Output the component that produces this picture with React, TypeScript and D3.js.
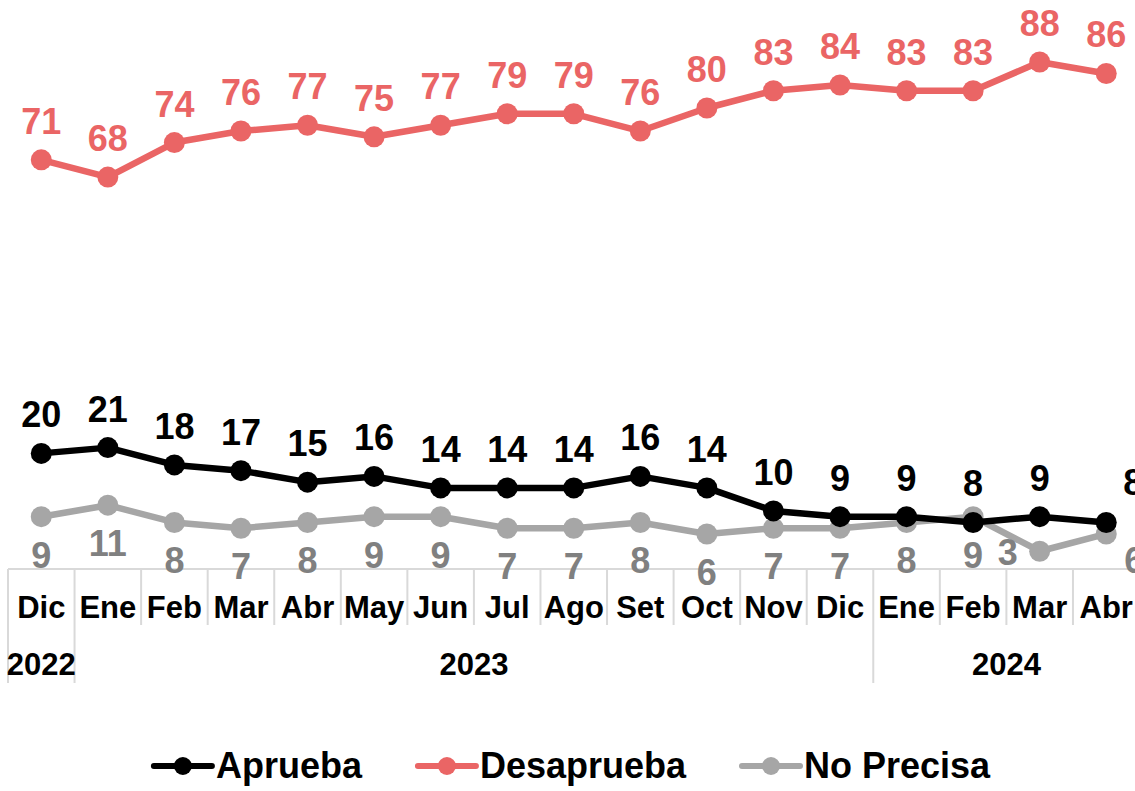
import * as d3 from "d3";
import { useEffect } from "react";

const months = ["Dic", "Ene", "Feb", "Mar", "Abr", "May", "Jun", "Jul", "Ago", "Set", "Oct", "Nov", "Dic", "Ene", "Feb", "Mar", "Abr"];
const years = [
  { label: "2022", from: 0, to: 1 },
  { label: "2023", from: 1, to: 13 },
  { label: "2024", from: 13, to: 17 },
];

const aprueba = [20, 21, 18, 17, 15, 16, 14, 14, 14, 16, 14, 10, 9, 9, 8, 9, 8];
const desaprueba = [71, 68, 74, 76, 77, 75, 77, 79, 79, 76, 80, 83, 84, 83, 83, 88, 86];
const noPrecisa = [9, 11, 8, 7, 8, 9, 9, 7, 7, 8, 6, 7, 7, 8, 9, 3, 6];

const W = 1135;
const H = 791;
const FONT = "'Liberation Sans', Arial, sans-serif";

const RED = "#EA6565";
const GRAY = "#A6A6A6";
const GRAY_TXT = "#808080";
const GRID = "#D9D9D9";

type Series = {
  name: string;
  values: number[];
  color: string;
  labelColor: string;
  place: "above" | "below";
};

const series: Series[] = [
  { name: "Aprueba", values: aprueba, color: "#000000", labelColor: "#000000", place: "above" },
  { name: "Desaprueba", values: desaprueba, color: RED, labelColor: RED, place: "above" },
  { name: "No Precisa", values: noPrecisa, color: GRAY, labelColor: GRAY_TXT, place: "below" },
];

function measure(text: string, font: string) {
  const c = document.createElement("canvas").getContext("2d");
  if (!c) return text.length * 20;
  c.font = font;
  return c.measureText(text).width;
}

export default function App() {
  useEffect(() => {
    document.body.style.margin = "0";
  }, []);

  const idx = months.map((_, i) => i);
  const x = d3.scaleBand<number>().domain(idx).range([8, 8 + 17 * 66.56]).padding(0);
  const cx = (i: number) => (x(i) ?? 0) + x.bandwidth() / 2;
  const y = d3.scaleLinear().domain([0, 100]).range([568.5, -7.1]);

  const line = d3
    .line<number>()
    .x((_, i) => cx(i))
    .y((d) => y(d));

  const axisY = 569;
  const bounds = d3.range(0, 18).map((i) => 8 + i * x.bandwidth());
  const yearEdges = new Set(years.flatMap((yr) => [yr.from, yr.to]));

  // legend layout
  const legendFont = `bold 36px ${FONT}`;
  const seg = 58;
  const gapText = 4;
  const gapItem = 56;
  const widths = series.map((s) => measure(s.name, legendFont));
  const total = widths.reduce((a, b) => a + b, 0) + series.length * (seg + gapText) + gapItem * (series.length - 1);
  let lx = 572 - total / 2;
  const legendItems = series.map((s, i) => {
    const item = { s, x0: lx, w: widths[i] };
    lx += seg + gapText + widths[i] + gapItem;
    return item;
  });

  const labelPos = (s: Series, i: number, v: number) => {
    const px = cx(i);
    const py = y(v);
    if (s.name === "No Precisa" && i === 15) return { x: px - 32, y: py + 14 };
    if (s.name === "No Precisa" && i === 16) return { x: px + 28, y: py + 39 };
    if (s.name === "Aprueba" && i === 16) return { x: px + 27, y: py - 27 };
    if (s.place === "below") return { x: px, y: py + 51 };
    return { x: px, y: py - 26 };
  };

  return (
    <svg width={W} height={H} style={{ position: "absolute", left: 0, top: 0, background: "#fff" }} fontFamily={FONT}>
      {/* category axis */}
      <line x1={8} x2={W} y1={axisY} y2={axisY} stroke={GRID} strokeWidth={2} />
      {bounds.map((bx, i) => (
        <line
          key={"b" + i}
          x1={bx}
          x2={bx}
          y1={axisY}
          y2={yearEdges.has(i) ? 683 : 625}
          stroke={GRID}
          strokeWidth={2}
        />
      ))}
      {months.map((m, i) => (
        <text key={"m" + i} x={cx(i)} y={618} textAnchor="middle" fontSize={31} fontWeight="bold" fill="#000">
          {m}
        </text>
      ))}
      {years.map((yr) => {
        const a = 8 + yr.from * x.bandwidth();
        const b = 8 + yr.to * x.bandwidth();
        return (
          <text key={yr.label} x={(a + b) / 2} y={675} textAnchor="middle" fontSize={31} fontWeight="bold" fill="#000">
            {yr.label}
          </text>
        );
      })}

      {/* series */}
      {[series[2], series[1], series[0]].map((s) => (
        <g key={s.name}>
          <path d={line(s.values) ?? ""} fill="none" stroke={s.color} strokeWidth={6.5} strokeLinejoin="round" />
          {s.values.map((v, i) => (
            <circle key={i} cx={cx(i)} cy={y(v)} r={10.5} fill={s.color} />
          ))}
        </g>
      ))}
      {series.map((s) =>
        s.values.map((v, i) => {
          const p = labelPos(s, i, v);
          return (
            <text
              key={s.name + i}
              x={p.x}
              y={p.y}
              textAnchor="middle"
              fontSize={36}
              fontWeight="bold"
              fill={s.labelColor}
            >
              {v}
            </text>
          );
        })
      )}

      {/* legend */}
      {legendItems.map(({ s, x0 }) => (
        <g key={"l" + s.name}>
          <line x1={x0} x2={x0 + seg} y1={766} y2={766} stroke={s.color} strokeWidth={6} strokeLinecap="round" />
          <circle cx={x0 + seg / 2} cy={766} r={9} fill={s.color} />
          <text x={x0 + seg + gapText} y={778} fontSize={36} fontWeight="bold" fill="#000">
            {s.name}
          </text>
        </g>
      ))}
    </svg>
  );
}
